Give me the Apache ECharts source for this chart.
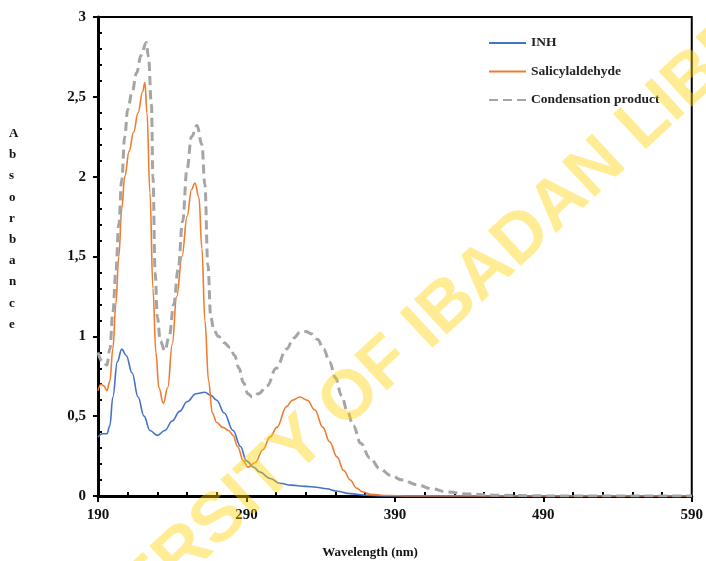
<!DOCTYPE html>
<html>
<head>
<meta charset="utf-8">
<script src="https://cdn.jsdelivr.net/npm/echarts@6/dist/echarts.min.js"></script>
<style>html,body{margin:0;padding:0;background:#fff;}#c{width:706px;height:561px;}</style>
</head>
<body>
<div id="c"></div>
<script>
// Wavelength (nm) and absorbance
const inhX = [190,193,196,198,200,203,206,209,213,217,221,225,230,235,240,245,250,256,262,266,270,275,281,286,290,295,299,306,312.5,320,330,337,344,351,360,368.5,380,390,590];
const inhY = [0.37,0.39,0.39,0.44,0.62,0.84,0.92,0.88,0.77,0.62,0.50,0.41,0.38,0.41,0.47,0.53,0.59,0.64,0.65,0.63,0.60,0.52,0.41,0.31,0.22,0.18,0.15,0.11,0.08,0.068,0.06,0.055,0.045,0.03,0.015,0.006,0.001,0,0];

const salX = [190,192,194,196,198,200,202,204,206,208,211,214,217,220,221.6,223,225,227,229,231,234,237,240,243,246.6,250,253,255.3,258,260,262,264.5,267,270,274,278,281,284,288,291,296,301,306,310.5,317,321,326,331,336,341.5,346,351,355.5,360,364,368.5,374,385,400,590];
const salY = [0.66,0.70,0.69,0.66,0.72,0.92,1.20,1.50,1.80,2.00,2.16,2.28,2.40,2.53,2.59,2.40,1.90,1.30,0.90,0.68,0.58,0.68,0.95,1.25,1.50,1.75,1.92,1.96,1.87,1.55,1.10,0.72,0.52,0.46,0.43,0.41,0.38,0.31,0.22,0.18,0.21,0.29,0.37,0.43,0.56,0.60,0.62,0.60,0.54,0.43,0.34,0.245,0.16,0.10,0.05,0.025,0.01,0.003,0,0];

const conX = [190,193,196,198,200,202,204,206,208,210,213,216,219,222.5,224,226,227,228.5,230,232,235,238,241,244,247,250,253,256.7,260,262,264,266,268,271,275,279,282,285,288,291,294,298,304,310,317,322,326,330,334,338,342,346,350,354,358,362,367,373,380,387,395,405,415,425,440,460,480,500,590];
const conY = [0.90,0.84,0.82,0.92,1.15,1.40,1.70,1.98,2.25,2.42,2.53,2.65,2.76,2.84,2.75,2.45,2.00,1.40,1.12,0.97,0.91,1.00,1.20,1.42,1.72,2.05,2.25,2.32,2.20,1.95,1.45,1.12,1.04,1.00,0.96,0.93,0.88,0.80,0.71,0.64,0.62,0.64,0.69,0.80,0.92,0.99,1.025,1.03,1.015,0.98,0.92,0.84,0.74,0.63,0.53,0.44,0.33,0.24,0.17,0.13,0.10,0.07,0.045,0.025,0.012,0.005,0.002,0,0];

const seriesNames = ['INH', 'Salicylaldehyde', 'Condensation product'];
const xTickLabels = ['190','290','390','490','590'];
const X0 = 190;

function pairs(xs, ys){ return xs.map((x,i)=>[x - X0, ys[i]]); }

const serif = '"Liberation Serif", "Times New Roman", serif';
const chart = echarts.init(document.getElementById('c'));
chart.setOption({
  animation: false,
  backgroundColor: '#fff',
  grid: { left: 98, right: 14, top: 17, bottom: 65, show: true, borderColor: '#000', borderWidth: 2 },
  xAxis: {
    type: 'value', min: 0, max: 400, interval: 100,
    axisLine: { show: true, lineStyle: { color: '#000', width: 3 } },
    axisTick: { show: true, length: 6, lineStyle: { color: '#000', width: 2 } },
    minorTick: { show: true, splitNumber: 5, length: -4, lineStyle: { color: '#000', width: 2 } },
    splitLine: { show: false },
    axisLabel: { margin: 12, color: '#111', fontFamily: serif, fontWeight: 'bold', fontSize: 15,
      formatter: v => xTickLabels[Math.round(v/100)] }
  },
  yAxis: {
    type: 'value', min: 0, max: 3, interval: 0.5,
    axisLine: { show: true, lineStyle: { color: '#000', width: 3 } },
    axisTick: { show: true, length: 5, lineStyle: { color: '#000', width: 2 } },
    minorTick: { show: true, splitNumber: 5, length: -4, lineStyle: { color: '#000', width: 2 } },
    splitLine: { show: false },
    axisLabel: { margin: 12, color: '#111', fontFamily: serif, fontWeight: 'bold', fontSize: 15,
      formatter: v => String(v).replace('.', ',') }
  },
  legend: {
    orient: 'vertical', left: 488, top: 36, padding: 0,
    itemWidth: 37, itemHeight: 14, itemGap: 14.5,
    itemStyle: { color: 'rgba(0,0,0,0)', borderColor: 'rgba(0,0,0,0)', borderWidth: 0, opacity: 0 },
    textStyle: { fontFamily: serif, fontWeight: 'bold', fontSize: 13.5, color: '#222' },
    data: seriesNames
  },
  series: [
    { name: seriesNames[0], type: 'line', data: pairs(inhX, inhY), showSymbol: false, symbol: 'none',
      smooth: 0.4, smoothMonotone: 'x', color: '#4472C4', lineStyle: { color: '#4472C4', width: 1.6 } },
    { name: seriesNames[1], type: 'line', data: pairs(salX, salY), showSymbol: false, symbol: 'none',
      smooth: 0.4, smoothMonotone: 'x', color: '#ED7D31', lineStyle: { color: '#ED7D31', width: 1.6 } },
    { name: seriesNames[2], type: 'line', data: pairs(conX, conY), showSymbol: false, symbol: 'none',
      smooth: 0.4, smoothMonotone: 'x', color: '#A5A5A5', lineStyle: { color: '#A5A5A5', width: 3, type: [9, 5] } }
  ],
  graphic: [
    { type: 'text', left: 9, top: 123, style: { text: 'A\nb\ns\no\nr\nb\na\nn\nc\ne', fill: '#111',
      font: 'bold 13px ' + serif, lineHeight: 21.2, align: 'center' } },
    { type: 'text', x: 370, y: 553, style: { text: 'Wavelength (nm)', fill: '#111',
      font: 'bold 13px ' + serif, align: 'center', verticalAlign: 'middle' } },
    { type: 'text', x: 432, y: 322, rotation: 0.75, z: 100, silent: true,
      style: { text: 'UNIVERSITY OF IBADAN LIBRARY', fill: 'rgba(255,210,0,0.42)',
        font: 'bold 70px "Liberation Sans", Arial, sans-serif', align: 'center', verticalAlign: 'middle' } }
  ]
});
</script>
</body>
</html>
